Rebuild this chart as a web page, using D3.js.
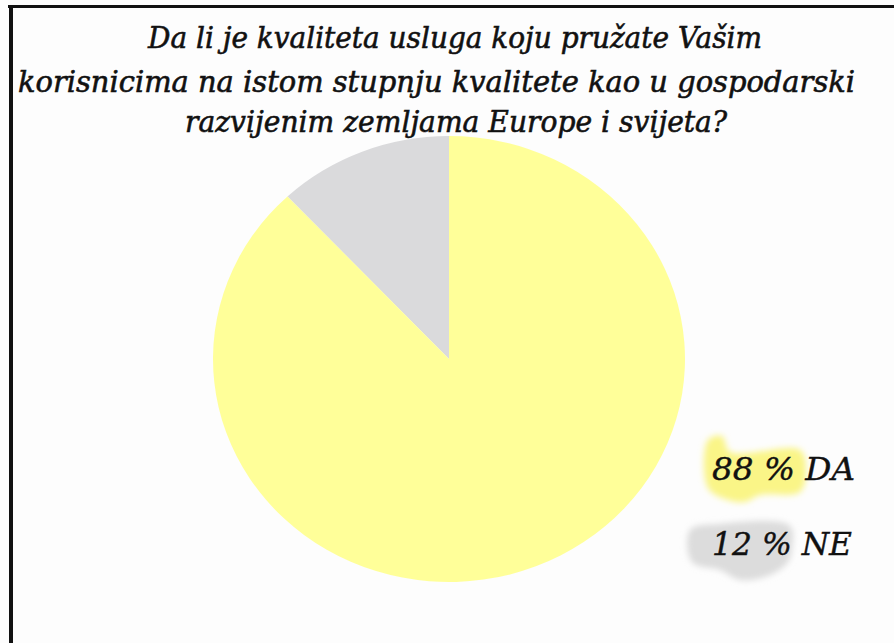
<!DOCTYPE html>
<html><head><meta charset="utf-8">
<script src="https://cdn.jsdelivr.net/npm/d3@7"></script>
<style>html,body{margin:0;padding:0;background:#fff;}svg{display:block;}</style>
</head><body>
<script>
const titleLines = ["Da li je kvaliteta usluga koju pružate Vašim",
  "korisnicima na istom stupnju kvalitete kao u gospodarski",
  "razvijenim zemljama Europe i svijeta?"];
const categories = ["NE", "DA"];
const values = [12, 88];
const labels = ["12 % NE", "88 % DA"];
const colors = ["#DADADC", "#FFFF99"];

const W = 894, H = 643;
const svg = d3.select("body").append("svg").attr("width", W).attr("height", H);
svg.append("rect").attr("width", W).attr("height", H).attr("fill", "#fdfdfd");
const defs = svg.append("defs");
defs.append("filter").attr("id", "blur").append("feGaussianBlur").attr("stdDeviation", 3);

// frame (top + left)
svg.append("line").attr("x1", 8).attr("x2", W).attr("y1", 6.5).attr("y2", 6.5).attr("stroke", "#111").attr("stroke-width", 3);
svg.append("line").attr("x1", 11).attr("x2", 11).attr("y1", 5).attr("y2", H).attr("stroke", "#111").attr("stroke-width", 4);

// title
const tl = [{x0:148,x1:762,y:48},{x0:18,x1:855,y:92},{x0:185,x1:727,y:132}];
svg.append("g").selectAll("text").data(titleLines).join("text")
  .attr("x", (d,i)=>tl[i].x0).attr("y", (d,i)=>tl[i].y)
  .attr("textLength", (d,i)=>tl[i].x1-tl[i].x0).attr("lengthAdjust","spacingAndGlyphs")
  .attr("font-family", "DejaVu Serif").attr("font-style", "italic").attr("font-size", 29)
  .attr("fill", "#111").attr("stroke", "#111").attr("stroke-width", 0.6).text(d=>d);

// pie
const cx = 449, cy = 359, ry = 223, rx = 236;
const pie = d3.pie().sort(null).startAngle(-2*Math.PI*values[0]/100).endAngle(2*Math.PI - 2*Math.PI*values[0]/100);
const arcs = pie(values);
const arc = d3.arc().innerRadius(0).outerRadius(ry);
svg.append("g").attr("transform", `translate(${cx},${cy}) scale(${rx/ry},1)`)
  .selectAll("path").data(arcs).join("path")
  .attr("d", arc).attr("fill", (d,i)=>colors[i]);

// legend highlight blobs
const blobs = [
  {i:1, pts:[[708,440],[722,436],[730,452],[800,450],[806,470],[800,492],[760,495],[745,502],[728,500],[708,488]]},
  {i:0, pts:[[690,530],[720,524],[790,526],[792,548],[788,562],[770,575],[740,580],[720,570],[692,562]]}
];
const line = d3.line().curve(d3.curveCatmullRomClosed);
svg.append("g").attr("filter","url(#blur)").selectAll("path").data(blobs).join("path")
  .attr("d", d=>line(d.pts)).attr("fill", d=> d.i===1 ? "#FAF47A" : "#D8D8D8").attr("opacity", 0.9);

// legend text
const lg = [{x0:712,x1:852,y:555},{x0:712,x1:855,y:480}];
svg.append("g").selectAll("text").data(labels).join("text")
  .attr("x", (d,i)=>lg[i].x0).attr("y", (d,i)=>lg[i].y)
  .attr("textLength", (d,i)=>lg[i].x1-lg[i].x0).attr("lengthAdjust","spacingAndGlyphs")
  .attr("font-family", "DejaVu Serif").attr("font-style", "italic").attr("font-size", 32)
  .attr("fill", "#111").attr("stroke", "#111").attr("stroke-width", 0.4).text(d=>d);
</script>
</body></html>
